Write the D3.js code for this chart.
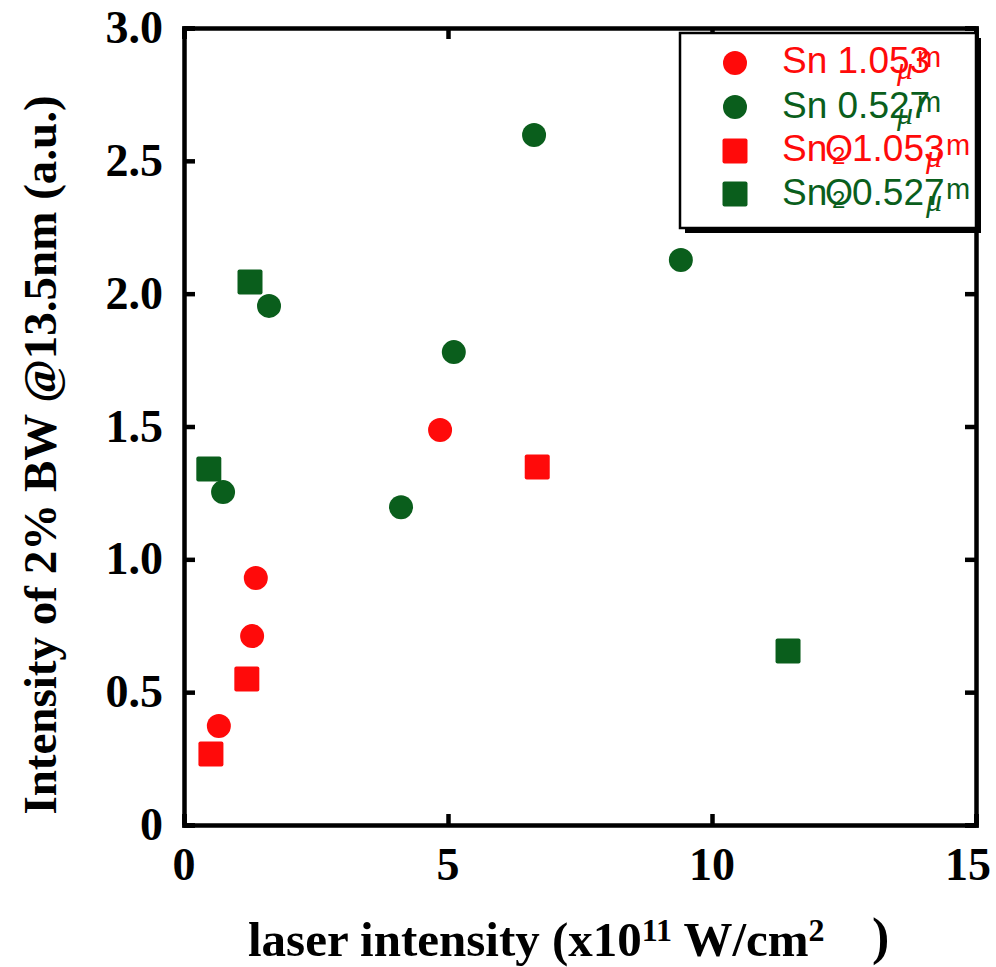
<!DOCTYPE html>
<html><head><meta charset="utf-8">
<script src="https://cdn.jsdelivr.net/npm/d3@7"></script>
<style>body{margin:0;background:#fff}svg{display:block}</style>
</head><body>
<svg id="c" width="996" height="967"></svg>
<script>
// ---- data ----
const snRedX = [0.66, 1.29, 1.36, 4.85];
const snRedY = [0.373, 0.711, 0.930, 1.487];
const snGreenX = [0.74, 1.61, 4.11, 5.11, 6.63, 9.41];
const snGreenY = [1.253, 1.954, 1.196, 1.780, 2.597, 2.127];
const sno2RedX = [0.51, 1.19, 6.69];
const sno2RedY = [0.267, 0.550, 1.348];
const sno2GreenX = [0.47, 1.25, 11.44];
const sno2GreenY = [1.340, 2.044, 0.655];
const xTicks = [0, 5, 10, 15];
const yTicks = [0, 0.5, 1.0, 1.5, 2.0, 2.5, 3.0];
const yTickLabels = ["0", "0.5", "1.0", "1.5", "2.0", "2.5", "3.0"];
const legendNames = ["Sn 1.053", "Sn 0.527", "1.053", "0.527"];

const RED = "#ff0a0a", GREEN = "#0a5e1c";
const series = [
  {xs: snRedX, ys: snRedY, color: RED, shape: "circle"},
  {xs: snGreenX, ys: snGreenY, color: GREEN, shape: "circle"},
  {xs: sno2RedX, ys: sno2RedY, color: RED, shape: "square"},
  {xs: sno2GreenX, ys: sno2GreenY, color: GREEN, shape: "square"}
];

const svg = d3.select("#c");
const L = 184, R = 976, T = 28, B = 825;
const x = d3.scaleLinear().domain([0, 15]).range([L, R]);
const y = d3.scaleLinear().domain([0, 3]).range([B, T]);
const serif = "'Liberation Serif','Times New Roman',serif";
const sans = "'Liberation Sans',Arial,sans-serif";

// frame axes with inward ticks
const tl = 11;
const gB = svg.append("g").attr("transform", `translate(0,${B})`)
  .call(d3.axisBottom(x).tickValues(xTicks).tickSize(-tl).tickFormat(""));
const gT = svg.append("g").attr("transform", `translate(0,${T})`)
  .call(d3.axisTop(x).tickValues(xTicks).tickSize(-tl).tickFormat(""));
const gL = svg.append("g").attr("transform", `translate(${L},0)`)
  .call(d3.axisLeft(y).tickValues(yTicks).tickSize(-tl).tickFormat(""));
const gR = svg.append("g").attr("transform", `translate(${R},0)`)
  .call(d3.axisRight(y).tickValues(yTicks).tickSize(-tl).tickFormat(""));
[gB, gT, gL, gR].forEach(g => {
  g.select(".domain").attr("stroke", "#000").attr("stroke-width", 4.5);
  g.selectAll(".tick line").attr("stroke", "#000").attr("stroke-width", 4.5);
});

// tick labels
svg.append("g").selectAll("text").data(xTicks).join("text")
  .attr("x", d => x(d) - (d === 15 ? 8 : 0)).attr("y", 880)
  .attr("text-anchor", "middle").attr("font-family", serif)
  .attr("font-weight", "bold").attr("font-size", 46).text(d => d);
svg.append("g").selectAll("text").data(yTicks).join("text")
  .attr("x", 163).attr("y", d => y(d) + 15)
  .attr("text-anchor", "end").attr("font-family", serif)
  .attr("font-weight", "bold").attr("font-size", 46).text((d, i) => yTickLabels[i]);

// axis titles
const xt = svg.append("text").attr("x", 248).attr("y", 956)
  .attr("font-family", serif).attr("font-weight", "bold").attr("font-size", 49);
xt.append("tspan").text("laser intensity (x10");
xt.append("tspan").attr("dy", -15).attr("font-size", 32).text("11");
xt.append("tspan").attr("dy", 15).text(" W/cm");
xt.append("tspan").attr("dy", -15).attr("font-size", 32).text("2");
xt.append("tspan").attr("x", 872).attr("dy", 13).attr("font-size", 52).text(")");

svg.append("text").attr("transform", "translate(56,455) rotate(-90)")
  .attr("text-anchor", "middle").attr("font-family", serif)
  .attr("font-weight", "bold").attr("font-size", 47)
  .text("Intensity of 2% BW @13.5nm (a.u.)");

// markers
function drawMarker(g, shape, cx, cy, color) {
  if (shape === "circle") {
    g.append("circle").attr("cx", cx).attr("cy", cy).attr("r", 12).attr("fill", color);
  } else {
    g.append("rect").attr("x", cx - 12.5).attr("y", cy - 12.5).attr("width", 25).attr("height", 25)
      .attr("rx", 2).attr("fill", color);
  }
}
const pts = svg.append("g");
series.forEach(s => s.xs.forEach((xv, i) => drawMarker(pts, s.shape, x(xv), y(s.ys[i]), s.color)));

// legend
const lg = svg.append("g");
lg.append("rect").attr("x", 685).attr("y", 38).attr("width", 296).attr("height", 195).attr("fill", "#000");
lg.append("rect").attr("x", 680).attr("y", 33).attr("width", 296).attr("height", 195)
  .attr("fill", "#fff").attr("stroke", "#000").attr("stroke-width", 2.5);
const rowM = [63, 107, 151, 194];
const rowB = [73, 118, 161, 205];
series.forEach((s, i) => {
  drawMarker(lg, s.shape, 735, rowM[i], s.color);
  const t = lg.append("text").attr("y", rowB[i]).attr("fill", s.color)
    .attr("font-family", sans).attr("font-size", 37);
  let muX, mX;
  if (i < 2) {
    t.append("tspan").attr("x", 782).text(legendNames[i]);
    muX = 897; mX = 917;
  } else {
    t.append("tspan").attr("x", 782).text("Sn");
    t.append("tspan").attr("x", 825).attr("font-size", 36).text("O");
    t.append("tspan").attr("x", 832).attr("dy", 3).attr("font-size", 24).text("2");
    t.append("tspan").attr("x", 852).attr("dy", -3).text(legendNames[i]);
    muX = 926; mX = 946;
  }
  lg.append("text").attr("x", muX).attr("y", rowB[i] + 6).attr("fill", s.color)
    .attr("font-family", serif).attr("font-style", "italic").attr("font-size", 32).text("μ");
  lg.append("text").attr("x", mX).attr("y", rowB[i] - 6).attr("fill", s.color)
    .attr("font-family", sans).attr("font-size", 29).text("m");
});
</script>
</body></html>
